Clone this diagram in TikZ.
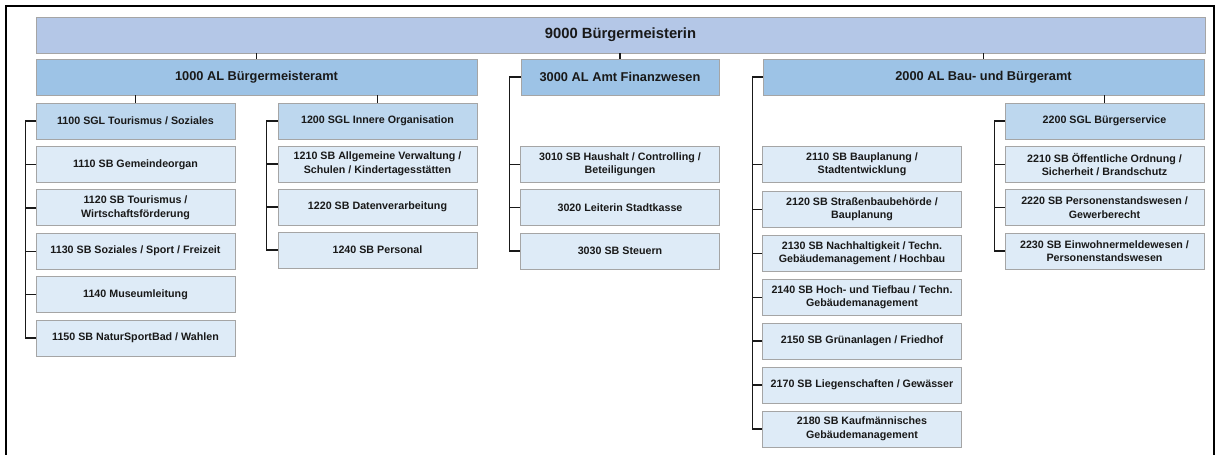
\documentclass[tikz,border=0pt]{standalone}
\usepackage{fontspec}
\setmainfont{Liberation Sans}
\definecolor{TopClr}{RGB}{180,199,231}
\definecolor{AmtClr}{RGB}{157,195,230}
\definecolor{SglClr}{RGB}{189,215,238}
\definecolor{SbClr}{RGB}{222,235,247}
\definecolor{EdgeClr}{RGB}{165,165,165}
\tikzset{
  box/.style={draw=EdgeClr,line width=0.8pt,align=center,inner sep=2pt,text=black!90},
  topbox/.style={box,fill=TopClr,minimum width=1169pt,minimum height=36pt,
    font=\bfseries\fontsize{14.8}{17}\selectfont},
  amtbox/.style={box,fill=AmtClr,minimum height=36pt,
    font=\bfseries\fontsize{12.8}{15}\selectfont},
  sglbox/.style={box,fill=SglClr,minimum width=199pt,minimum height=36pt,
    font=\bfseries\fontsize{10.7}{13.5}\selectfont},
  sbbox/.style={sglbox,fill=SbClr},
  link/.style={line width=1.4pt,black!90},
}

\begin{document}
\begin{tikzpicture}[x=1pt,y=-1pt]
\useasboundingbox (0,0) rectangle (1218,455);
\draw[line width=1.5pt] (6,455) -- (6,6) -- (1214,6) -- (1214,455);

% Leitung und Aemter
\node[topbox] (n9000) at (620.5,35) {9000 Bürgermeisterin};
\node[amtbox,minimum width=441pt] (n1000) at (256.5,77) {1000 AL Bürgermeisteramt};
\node[amtbox,minimum width=198pt] (n3000) at (620,77) {3000 AL Amt Finanzwesen};
\node[amtbox,minimum width=441pt] (n2000) at (983.5,77) {2000 AL Bau- und Bürgeramt};

% Amt 1000
\node[sglbox] (n1100) at (135.5,121) {1100 SGL Tourismus / Soziales};
\node[sbbox] (n1110) at (135.5,164.4) {1110 SB Gemeindeorgan};
\node[sbbox] (n1120) at (135.5,207.8) {1120 SB Tourismus /\\Wirtschaftsförderung};
\node[sbbox] (n1130) at (135.5,251.2) {1130 SB Soziales / Sport / Freizeit};
\node[sbbox] (n1140) at (135.5,294.6) {1140 Museumleitung};
\node[sbbox] (n1150) at (135.5,338) {1150 SB NaturSportBad / Wahlen};

\node[sglbox] (n1200) at (377.5,121) {1200 SGL Innere Organisation};
\node[sbbox] (n1210) at (377.5,164) {1210 SB Allgemeine Verwaltung /\\Schulen / Kindertagesstätten};
\node[sbbox] (n1220) at (377.5,207) {1220 SB Datenverarbeitung};
\node[sbbox] (n1240) at (377.5,250) {1240 SB Personal};

% Amt 3000
\node[sbbox] (n3010) at (620,164.5) {3010 SB Haushalt / Controlling /\\Beteiligungen};
\node[sbbox] (n3020) at (620,207.5) {3020 Leiterin Stadtkasse};
\node[sbbox] (n3030) at (620,251) {3030 SB Steuern};

% Amt 2000
\node[sbbox] (n2110) at (862,164.5) {2110 SB Bauplanung /\\Stadtentwicklung};
\node[sbbox] (n2120) at (862,209.5) {2120 SB Straßenbaubehörde /\\Bauplanung};
\node[sbbox] (n2130) at (862,253.5) {2130 SB Nachhaltigkeit / Techn.\\Gebäudemanagement / Hochbau};
\node[sbbox] (n2140) at (862,297.5) {2140 SB Hoch- und Tiefbau / Techn.\\Gebäudemanagement};
\node[sbbox] (n2150) at (862,341) {2150 SB Grünanlagen / Friedhof};
\node[sbbox] (n2170) at (862,385) {2170 SB Liegenschaften / Gewässer};
\node[sbbox] (n2180) at (862,429) {2180 SB Kaufmännisches\\Gebäudemanagement};

\node[sglbox] (n2200) at (1104.5,121) {2200 SGL Bürgerservice};
\node[sbbox] (n2210) at (1104.5,164.5) {2210 SB Öffentliche Ordnung /\\Sicherheit / Brandschutz};
\node[sbbox] (n2220) at (1104.5,207.5) {2220 SB Personenstandswesen /\\Gewerberecht};
\node[sbbox] (n2230) at (1104.5,251) {2230 SB Einwohnermeldewesen /\\Personenstandswesen};

% Verbindungen
\draw[link] (n9000.south -| n1000.north) -- (n1000.north);
\draw[link] (n9000.south -| n3000.north) -- (n3000.north);
\draw[link] (n9000.south -| n2000.north) -- (n2000.north);
\draw[link] (n1000.south -| n1100.north) -- (n1100.north);
\draw[link] (n1000.south -| n1200.north) -- (n1200.north);
\draw[link] (n2000.south -| n2200.north) -- (n2200.north);

\draw[link] (n1100.west) -- ++(-10,0) |- (n1150.west);
\foreach \k in {1110,1120,1130,1140}
  \draw[link] (n\k.west) -- ++(-10,0);
\draw[link] (n1200.west) -- ++(-11,0) |- (n1240.west);
\foreach \k in {1210,1220}
  \draw[link] (n\k.west) -- ++(-11,0);
\draw[link] (n3000.west) -- ++(-11,0) |- (n3030.west);
\foreach \k in {3010,3020}
  \draw[link] (n\k.west) -- ++(-11,0);
\draw[link] (n2000.west) -- ++(-10,0) |- (n2180.west);
\foreach \k in {2110,2120,2130,2140,2150,2170}
  \draw[link] (n\k.west) -- ++(-10,0);
\draw[link] (n2200.west) -- ++(-10,0) |- (n2230.west);
\foreach \k in {2210,2220}
  \draw[link] (n\k.west) -- ++(-10,0);

\end{tikzpicture}
\end{document}
